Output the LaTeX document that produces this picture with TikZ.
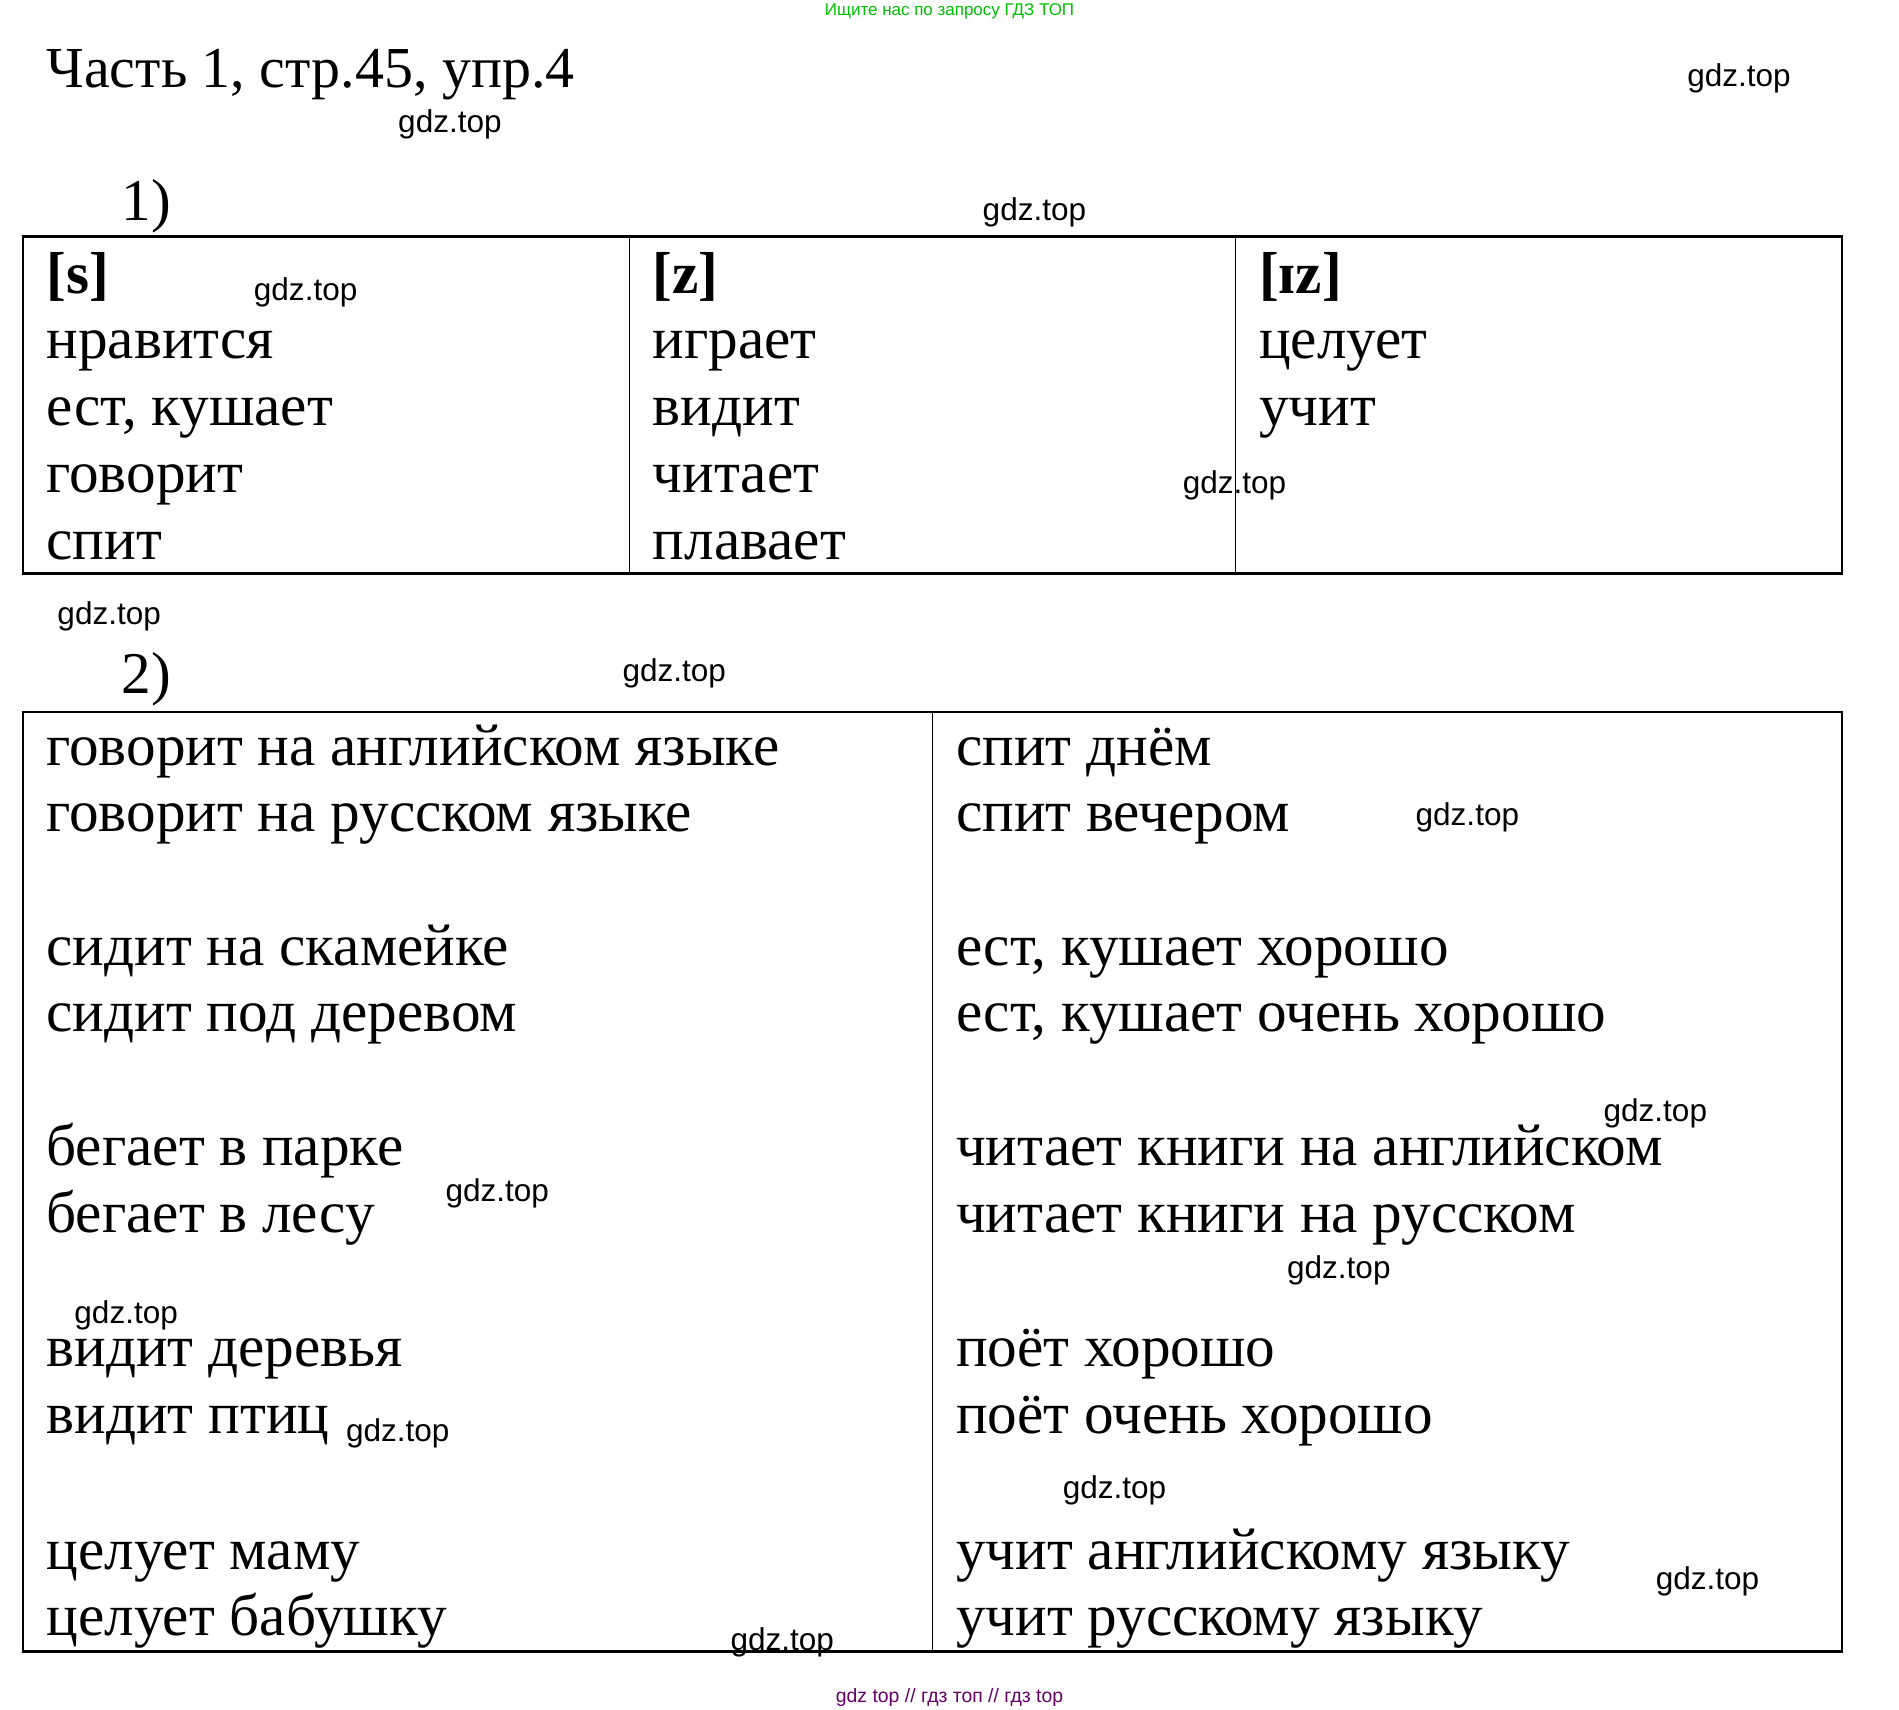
\documentclass[tikz,border=0pt]{standalone}
\usepackage{fontspec}
\setmainfont{Liberation Serif}
\newfontfamily\wm{Liberation Sans}
\begin{document}
\begin{tikzpicture}[x=0.5pt,y=-0.5pt,
  txt/.style={anchor=base west,inner sep=0pt,font=\fontsize{24.4}{24.4}\selectfont},
  wmk/.style={anchor=base west,inner sep=0pt,font=\wm\fontsize{13}{13}\selectfont},
  outer/.style={line width=1pt},
  inner/.style={line width=0.5pt}]
\useasboundingbox (0,0) rectangle (1566,1410);
\node[anchor=base,inner sep=0pt,font=\wm\fontsize{7}{7}\selectfont,text=green!75!black] (hdr) at (783,13) {Ищите нас по запросу ГДЗ ТОП};
\node[txt,font=\fontsize{23.9}{23.9}\selectfont] (title) at (38,72) {Часть 1, стр.45, упр.4};
\node[txt] (n1) at (100,182) {1)};
\node[txt] (n2) at (100,572) {2)};
% table 1
\draw[outer] (19,195) rectangle (1519,473);
\draw[inner] (519,195) -- (519,473) (1019,195) -- (1019,473);
\node[txt] (s) at (38,242) {\textbf{[s]}};
\node[txt] (z) at (538,242) {\textbf{[z]}};
\node[txt] (iz) at (1038,242) {\textbf{[ɪz]}};
\foreach \t [count=\i] in {нравится,{ест, кушает},говорит,спит}
  \node[txt] (a\i) at (38,{241+55*\i}) {\t};
\foreach \t [count=\i] in {играет,видит,читает,плавает}
  \node[txt] (b\i) at (538,{241+55*\i}) {\t};
\foreach \t [count=\i] in {целует,учит}
  \node[txt] (c\i) at (1038,{241+55*\i}) {\t};
% table 2
\draw[outer] (19,587) rectangle (1519,1362);
\draw[inner] (769,587) -- (769,1362);
\foreach \t/\y [count=\i] in {говорит на английском языке/631,говорит на русском языке/686,сидит на скамейке/796,сидит под деревом/851,бегает в парке/961,бегает в лесу/1016,видит деревья/1127,видит птиц/1182,целует маму/1294,целует бабушку/1349}
  \node[txt] (l\i) at (38,\y) {\t};
\foreach \t/\y [count=\i] in {спит днём/631,спит вечером/686,{ест, кушает хорошо}/796,{ест, кушает очень хорошо}/851,читает книги на английском/961,читает книги на русском/1016,поёт хорошо/1127,поёт очень хорошо/1182,учит английскому языку/1294,учит русскому языку/1349}
  \node[txt] (r\i) at (788,\y) {\t};
% watermarks
\foreach \x/\y [count=\i] in {1391/71,328/109,810/182,209/248,975/407,47/515,513/562,1167/681,1322/925,367/991,1061/1054,61/1091,285/1189,876/1236,1365/1311,602/1361}
  \node[wmk] (w\i) at (\x,\y) {gdz.top};
\node[anchor=base,inner sep=0pt,font=\wm\fontsize{8}{8}\selectfont,text=violet!80!black] (ftr) at (783,1404) {gdz top // гдз топ // гдз top};
\end{tikzpicture}
\end{document}
